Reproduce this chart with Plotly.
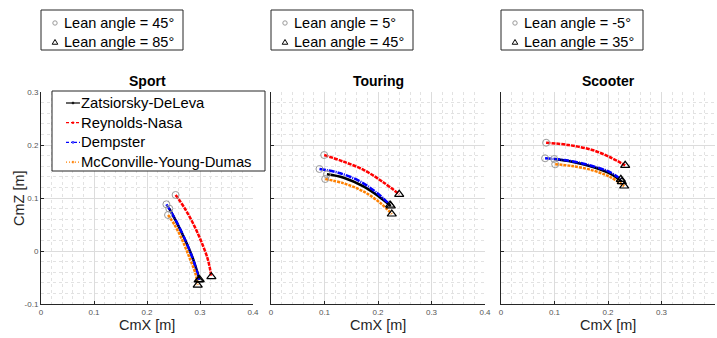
import plotly.graph_objects as go

# Centre-of-mass trajectories (CmX, CmZ in metres) while the rider leans,
# per motorcycle type and anthropometric model.
MODELS = ["Zatsiorsky-DeLeva", "Reynolds-Nasa", "Dempster", "McConville-Young-Dumas"]
BIKES = ["Sport", "Touring", "Scooter"]

sport_x = {
    "Zatsiorsky-DeLeva": [0.242, 0.255, 0.270, 0.285, 0.295, 0.2995],
    "Reynolds-Nasa": [0.254, 0.2711, 0.2868, 0.3026, 0.3151, 0.3215],
    "Dempster": [0.2366, 0.2523, 0.2679, 0.2838, 0.2951, 0.2975],
    "McConville-Young-Dumas": [0.2397, 0.2523, 0.2679, 0.2806, 0.2913, 0.2957],
}
sport_z = {
    "Zatsiorsky-DeLeva": [0.080, 0.056, 0.025, -0.010, -0.040, -0.054],
    "Reynolds-Nasa": [0.1057, 0.0806, 0.0523, 0.0175, -0.017, -0.0485],
    "Dempster": [0.0881, 0.0617, 0.0302, -0.0075, -0.0421, -0.0547],
    "McConville-Young-Dumas": [0.0679, 0.049, 0.0175, -0.0138, -0.0421, -0.0642],
}
touring_x = {
    "Zatsiorsky-DeLeva": [0.1045, 0.1358, 0.1736, 0.2019, 0.224],
    "Reynolds-Nasa": [0.0994, 0.1359, 0.1736, 0.2083, 0.2396],
    "Dempster": [0.0906, 0.1296, 0.1674, 0.1989, 0.2226],
    "McConville-Young-Dumas": [0.1013, 0.1358, 0.1736, 0.2051, 0.2258],
}
touring_z = {
    "Zatsiorsky-DeLeva": [0.1447, 0.1383, 0.1213, 0.1025, 0.0849],
    "Reynolds-Nasa": [0.1811, 0.1685, 0.1528, 0.1308, 0.107],
    "Dempster": [0.1547, 0.1466, 0.1308, 0.1089, 0.0868],
    "McConville-Young-Dumas": [0.1358, 0.1277, 0.1119, 0.09, 0.0698],
}
scooter_x = {
    "Zatsiorsky-DeLeva": [0.0994, 0.1328, 0.1736, 0.2051, 0.2258],
    "Reynolds-Nasa": [0.0843, 0.1264, 0.1706, 0.2019, 0.2321],
    "Dempster": [0.0824, 0.1264, 0.1706, 0.2019, 0.224],
    "McConville-Young-Dumas": [0.1013, 0.1328, 0.1736, 0.2051, 0.2302],
}
scooter_z = {
    "Zatsiorsky-DeLeva": [0.1736, 0.1685, 0.1579, 0.1453, 0.1308],
    "Reynolds-Nasa": [0.2043, 0.2, 0.1906, 0.1779, 0.1617],
    "Dempster": [0.1749, 0.1704, 0.1604, 0.1496, 0.1353],
    "McConville-Young-Dumas": [0.1636, 0.1604, 0.1515, 0.139, 0.1226],
}
lean_start = [45, 5, -5]   # degrees, circle marker
lean_end = [85, 45, 35]    # degrees, triangle marker

x_ticks = [0, 0.1, 0.2, 0.3, 0.4]
z_ticks = [-0.1, 0, 0.1, 0.2, 0.3]

COLORS = {"Zatsiorsky-DeLeva": "#000000", "Reynolds-Nasa": "#ff0000",
          "Dempster": "#0000ff", "McConville-Young-Dumas": "#ff8000"}
DASHES = {"Zatsiorsky-DeLeva": "solid", "Reynolds-Nasa": "4px,1px",
          "Dempster": "6px,1px,1px,1px", "McConville-Young-Dumas": "3px,1px"}
KEY_DASHES = {"Zatsiorsky-DeLeva": "solid", "Reynolds-Nasa": "3px,2px",
              "Dempster": "3px,2px,1px,2px", "McConville-Young-Dumas": "1px,2px"}

W, H = 717, 338
FONT = "Liberation Sans, Arial, Helvetica, sans-serif"
DOMAINS = [(41, 253), (271, 485), (501, 715)]
PLOT_TOP, PLOT_BOTTOM = 92, 304


def px(x):
    return x / W


def py(y):
    return 1 - y / H


fig = go.Figure()
data = [(sport_x, sport_z), (touring_x, touring_z), (scooter_x, scooter_z)]

for i, (bx, bz) in enumerate(data):
    xa = "x" if i == 0 else f"x{i + 1}"
    ya = "y" if i == 0 else f"y{i + 1}"
    for m in MODELS:
        fig.add_trace(go.Scatter(
            x=bx[m], y=bz[m], mode="lines", xaxis=xa, yaxis=ya,
            line=dict(color=COLORS[m], width=2.5, dash=DASHES[m], shape="spline"),
            name=m, showlegend=False,
        ))
    for m in MODELS:
        fig.add_trace(go.Scatter(
            x=[bx[m][0]], y=[bz[m][0]], mode="markers", xaxis=xa, yaxis=ya,
            marker=dict(symbol="circle-open", size=7, color="#9a9a9a", line=dict(width=1)),
            name=f"{m}, lean {lean_start[i]}°", showlegend=False))
        fig.add_trace(go.Scatter(
            x=[bx[m][-1]], y=[bz[m][-1]], mode="markers", xaxis=xa, yaxis=ya,
            marker=dict(symbol="triangle-up-open", size=8, color="#000000", line=dict(width=1.2)),
            name=f"{m}, lean {lean_end[i]}°", showlegend=False))

ydom = [py(PLOT_BOTTOM), py(PLOT_TOP)]
axis_common = dict(
    showline=True, linecolor="#262626", linewidth=1, automargin=False,
    ticks="inside", ticklen=3, tickcolor="#262626",
    showgrid=True, gridcolor="#dcdcdc", gridwidth=1, zeroline=False,
    tickfont=dict(family=FONT, size=8, color="#555555"),
    minor=dict(dtick=0.02, showgrid=True, gridcolor="#e2e2e2", griddash="dot", gridwidth=1),
)
layout = dict(
    width=W, height=H, margin=dict(l=0, r=0, t=0, b=0, autoexpand=False),
    paper_bgcolor="white", plot_bgcolor="white", showlegend=False,
    font=dict(family=FONT, color="#000000"),
)
annotations = []
shapes = []


def label(text, x, y, size, color, angle=0):
    annotations.append(dict(text=text, x=px(x), y=py(y), xref="paper", yref="paper",
                            xanchor="center", yanchor="middle", textangle=angle,
                            showarrow=False,
                            font=dict(family=FONT, size=size, color=color)))


for i, (a, b) in enumerate(DOMAINS):
    sfx = "" if i == 0 else str(i + 1)
    layout[f"xaxis{sfx}"] = dict(
        axis_common, domain=[px(a), px(b)], range=[0, 0.4],
        tickvals=x_ticks, ticktext=[f"{v:g}" for v in x_ticks],
        anchor=f"y{sfx}")
    layout[f"yaxis{sfx}"] = dict(
        axis_common, domain=ydom, range=[-0.1, 0.3],
        tickvals=z_ticks, ticktext=[f"{v:g}" for v in z_ticks],
        showticklabels=(i == 0), anchor=f"x{sfx}")
    label(f"<b>{BIKES[i]}</b>", (a + b) / 2, 81, 14, "#000000")
    label("CmX [m]", (a + b) / 2, 325, 14.5, "#262626")
label("CmZ [m]", 19, 198, 14.5, "#262626", angle=-90)


def key_box(x0, y0, x1, y1):
    shapes.append(dict(type="rect", xref="paper", yref="paper",
                       x0=px(x0), x1=px(x1), y0=py(y1), y1=py(y0),
                       line=dict(color="#262626", width=1), fillcolor="white"))


def key_text(x, y, text, size):
    annotations.append(dict(text=text, x=px(x), y=py(y), xref="paper", yref="paper",
                            xanchor="left", yanchor="middle", showarrow=False,
                            font=dict(family=FONT, size=size, color="#000000")))


def key_circle(cx, cy, r, color):
    shapes.append(dict(type="circle", xref="paper", yref="paper",
                       x0=px(cx - r), x1=px(cx + r), y0=py(cy + r), y1=py(cy - r),
                       line=dict(color=color, width=1)))


def key_triangle(cx, cy, s, color):
    path = (f"M {px(cx - s)} {py(cy + s * 0.8)} L {px(cx + s)} {py(cy + s * 0.8)} "
            f"L {px(cx)} {py(cy - s * 0.9)} Z")
    shapes.append(dict(type="path", xref="paper", yref="paper", path=path,
                       line=dict(color=color, width=1)))


# lean angle keys above each panel
for i, (a, b) in enumerate(DOMAINS):
    key_box(a, 10, a + 142, 50)
    key_circle(a + 14, 23, 2.2, "#9a9a9a")
    key_text(a + 21, 23, f"Lean angle = {lean_start[i]}°", 14.5)
    key_triangle(a + 14, 42, 2.8, "#000000")
    key_text(a + 21, 42, f"Lean angle = {lean_end[i]}°", 14.5)

# model key inside the first panel
key_box(52, 91, 265, 171)
for k, m in enumerate(MODELS):
    yk = 103 + k * 19.7
    shapes.append(dict(type="line", xref="paper", yref="paper",
                       x0=px(66), x1=px(80), y0=py(yk), y1=py(yk),
                       line=dict(color=COLORS[m], width=1.2, dash=KEY_DASHES[m])))
    key_circle(73, yk, 0.9, COLORS[m])
    key_text(79, yk, m, 14.8)

layout["annotations"] = annotations
layout["shapes"] = shapes
fig.update_layout(**layout)
fig.write_html("out.html")
